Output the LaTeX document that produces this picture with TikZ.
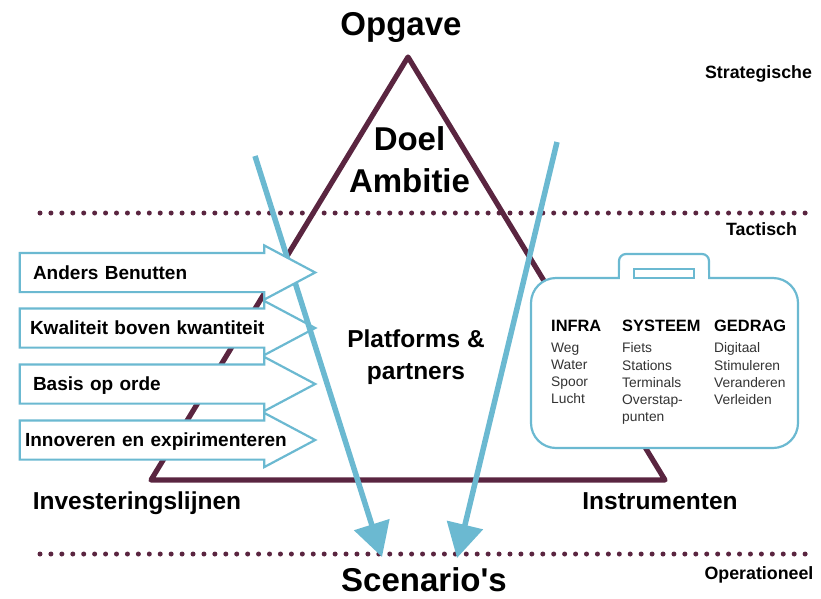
\documentclass[tikz,border=0pt]{standalone}
\usepackage{fontspec}
\setmainfont{Liberation Sans}
\newfontfamily\plainquote{Liberation Sans}
\usetikzlibrary{shapes.arrows, arrows.meta, positioning}
\definecolor{wine}{HTML}{5A2540}
\definecolor{sky}{HTML}{6BB9D1}
\tikzset{
  title/.style={font=\bfseries\fontsize{33}{36}\selectfont, inner sep=0pt, align=center},
  midtitle/.style={font=\bfseries\fontsize{24.5}{32}\selectfont, inner sep=0pt, align=center},
  level/.style={font=\bfseries\fontsize{17.8}{20}\selectfont, inner sep=0pt},
  flowarrow/.style={draw=sky, line width=2.2pt, fill=white, single arrow, inner sep=0pt,
    minimum height=295.5pt, minimum width=52pt, single arrow head extend=7.5pt,
    single arrow tip angle=56, font=\bfseries\fontsize{19}{22}\selectfont,
    text width=230pt, text height=25.3pt, text depth=11.7pt, align=left},
  caseline/.style={draw=sky, line width=2.2pt},
  colhead/.style={font=\bfseries\fontsize{16.4}{18}\selectfont, inner sep=0pt, anchor=west},
  colitems/.style={font=\fontsize{13.8}{17.3}\selectfont, text=black!80, inner sep=0pt, align=left, below right=10.5pt and 0pt of #1.south west},
  dotline/.style={wine, line width=5pt, line cap=round, dash pattern=on 0pt off 10.93pt},
  wineline/.style={wine, line width=5.2pt, line join=round},
  skyline/.style={sky, line width=5.5pt, -{Triangle[length=34pt,width=36pt]}}
}
\begin{document}
\begin{tikzpicture}[x=1pt, y=-1pt]
\useasboundingbox (0,0) rectangle (821,598);
% Levels
\coordinate (topL) at (40,213);
\coordinate (topR) at (806,213);
\coordinate (botL) at (40,554);
\coordinate (botR) at (806,554);
\draw[dotline] (topL) -- (topR);
\draw[dotline] (botL) -- (botR);

% Triangle
\coordinate (apex) at (408,57);
\coordinate (baseL) at (151,480);
\coordinate (baseR) at (665,480);
\draw[wineline] (apex) -- (baseR) -- (baseL) -- cycle;

% Lower arrows
\node[flowarrow] (kwal) at (149,328) {\rlap{\hspace*{-4pt}Kwaliteit boven kwantiteit}};
\node[flowarrow] (basis) at (149,384) {\rlap{\hspace*{-1pt}Basis op orde}};
\node[flowarrow] (innov) at (149,440) {\rlap{\hspace*{-9pt}Innoveren en expirimenteren}};

% Blue lines
\coordinate (skyA) at (255,156);
\coordinate (tipA) at (382,557);
\coordinate (skyB) at (557,142);
\coordinate (tipB) at (457,558);
\draw[skyline] (skyA) -- (tipA);
\draw[skyline] (skyB) -- (tipB);

\node[flowarrow] (anders) at (149,272.5) {\rlap{\hspace*{-1pt}Anders Benutten}};

% Suitcase
\draw[caseline, fill=white] (619,278) [rounded corners=7pt] -- (619,254) -- (709,254) [sharp corners] -- (709,278)
  [rounded corners=25pt] -- (798,278) -- (798,448) -- (531,448) -- (531,278) [sharp corners] -- cycle;
\fill[white] (620.1,279.5) rectangle (707.9,270);
\node[caseline, minimum width=60pt, minimum height=9pt, inner sep=0pt] (grip) at (664,273.5) {};

% Columns
\node[colhead] (infra) at (551,326) {INFRA};
\node[colitems=infra] (infralist) {Weg\\Water\\Spoor\\Lucht};
\node[colhead] (systeem) at (622,326) {SYSTEEM};
\node[colitems=systeem] (systeemlist) {Fiets\\Stations\\Terminals\\Overstap-\\punten};
\node[colhead] (gedrag) at (714,326) {GEDRAG};
\node[colitems=gedrag] (gedraglist) {Digitaal\\Stimuleren\\Veranderen\\Verleiden};

% Labels
\node[title] (opgave) at (401,27) {Opgave};
\node[title, text width=140pt] (doel) at (409.5,160) {Doel\\[6pt]Ambitie};
\node[midtitle] (platforms) at (416,357) {Platforms \&\\partners};
\node[midtitle] (lijnen) at (137,503) {Investeringslijnen};
\node[midtitle] (instr) at (660,501) {Instrumenten};
\node[title] (scen) at (424,580) {\plainquote\bfseries Scenario's};
\node[level] (strat) at (758.5,74) {Strategische};
\node[level] (tact) at (761.5,229) {Tactisch};
\node[level] (oper) at (759,575) {Operationeel};
\end{tikzpicture}
\end{document}
